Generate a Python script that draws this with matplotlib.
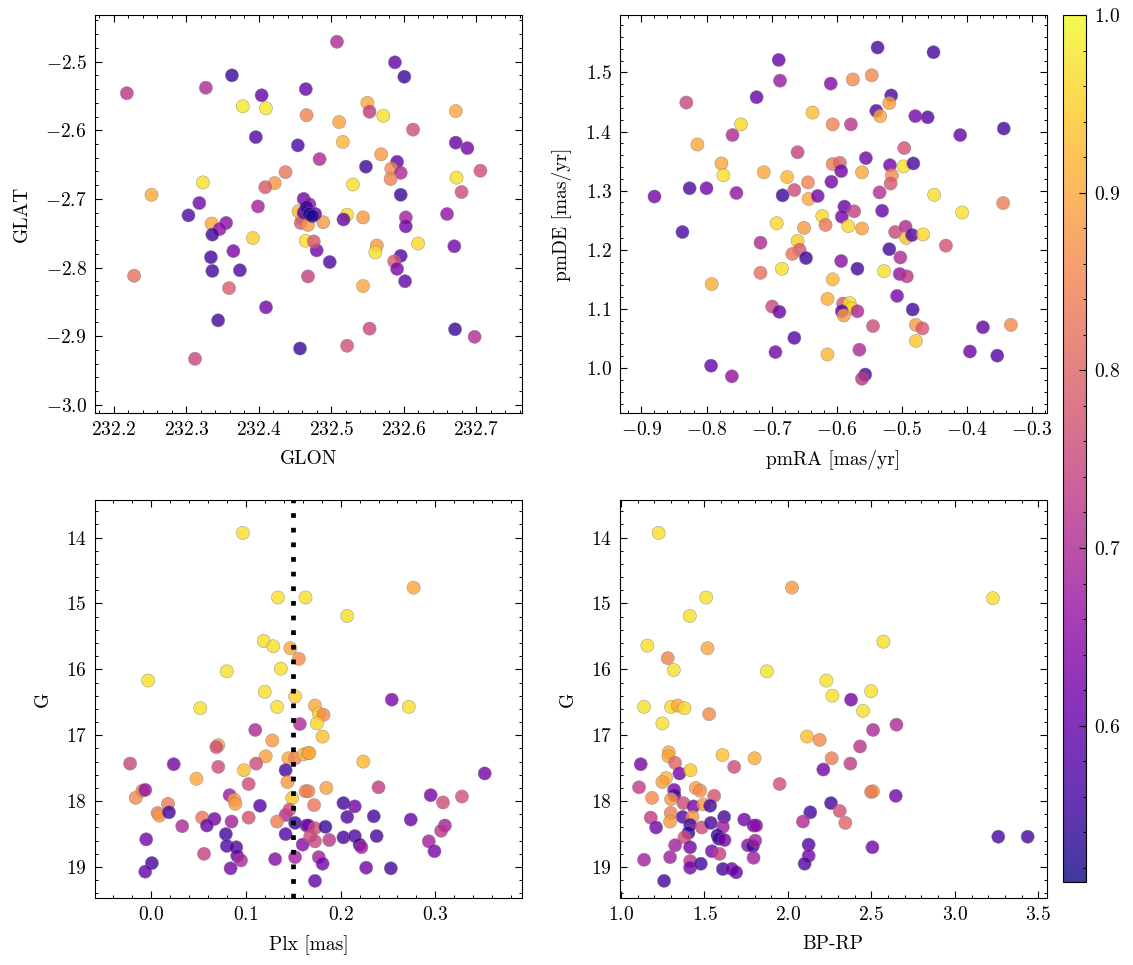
import numpy as np
import matplotlib
matplotlib.use("Agg")
import matplotlib.pyplot as plt
from matplotlib.ticker import MultipleLocator

# ---- data (per panel: x, y, membership probability) ----
glon = [232.218, 232.327, 232.363, 232.404, 232.465, 232.378, 232.410, 232.466, 232.396, 232.454,
        232.437, 232.422, 232.409, 232.323, 232.252, 232.318, 232.399, 232.303, 232.335, 232.355,
        232.346, 232.336, 232.392, 232.334, 232.336, 232.365, 232.374, 232.228, 232.359, 232.410,
        232.344, 232.457, 232.312, 232.468, 232.465,
        232.508, 232.588, 232.601, 232.550, 232.553, 232.572, 232.511, 232.516, 232.613, 232.672,
        232.672, 232.688, 232.706, 232.673, 232.680, 232.484, 232.548, 232.569, 232.591, 232.583,
        232.596, 232.582, 232.530, 232.596, 232.522, 232.544, 232.517, 232.489, 232.603, 232.603,
        232.660, 232.620, 232.563, 232.561, 232.596, 232.587, 232.591, 232.602, 232.670, 232.498,
        232.480, 232.476, 232.544, 232.553, 232.522, 232.671, 232.698,
        232.460, 232.458, 232.468, 232.455, 232.462, 232.470, 232.462, 232.466, 232.478, 232.470,
        232.474]
glat = [-2.546, -2.538, -2.520, -2.549, -2.540, -2.565, -2.568, -2.578, -2.610, -2.622,
        -2.661, -2.677, -2.683, -2.676, -2.694, -2.706, -2.711, -2.724, -2.736, -2.735,
        -2.744, -2.752, -2.757, -2.785, -2.805, -2.776, -2.804, -2.812, -2.830, -2.858,
        -2.877, -2.918, -2.933, -2.813, -2.761,
        -2.471, -2.501, -2.522, -2.560, -2.573, -2.579, -2.588, -2.617, -2.599, -2.572,
        -2.618, -2.626, -2.659, -2.669, -2.690, -2.642, -2.653, -2.635, -2.646, -2.656,
        -2.662, -2.671, -2.679, -2.694, -2.723, -2.727, -2.730, -2.734, -2.727, -2.740,
        -2.722, -2.765, -2.768, -2.778, -2.783, -2.791, -2.802, -2.820, -2.769, -2.792,
        -2.775, -2.762, -2.827, -2.889, -2.914, -2.890, -2.901,
        -2.728, -2.735, -2.738, -2.718, -2.700, -2.708, -2.720, -2.712, -2.722, -2.722,
        -2.725]
p_pos = [0.72, 0.70, 0.55, 0.60, 0.60, 0.98, 0.98, 0.85, 0.58, 0.57,
         0.83, 0.88, 0.78, 0.97, 0.90, 0.62, 0.68, 0.57, 0.90, 0.65,
         0.66, 0.55, 0.95, 0.56, 0.56, 0.63, 0.57, 0.82, 0.79, 0.62,
         0.56, 0.55, 0.75, 0.74, 0.97,
         0.70, 0.60, 0.55, 0.90, 0.73, 0.97, 0.89, 0.92, 0.77, 0.90,
         0.60, 0.62, 0.76, 0.97, 0.76, 0.70, 0.55, 0.88, 0.60, 0.86,
         0.70, 0.85, 0.97, 0.55, 0.96, 0.88, 0.60, 0.88, 0.68, 0.62,
         0.66, 0.96, 0.88, 0.97, 0.58, 0.78, 0.63, 0.60, 0.62, 0.57,
         0.62, 0.78, 0.90, 0.75, 0.77, 0.55, 0.71,
         0.86, 0.78, 0.88, 0.92, 0.62, 0.66, 0.58, 0.55, 0.60, 0.52,
         0.53]

pmra = [-0.689, -0.687, -0.609, -0.723, -0.831, -0.637, -0.747, -0.606, -0.760, -0.814,
        -0.660, -0.777, -0.774, -0.712, -0.676, -0.644, -0.606, -0.608, -0.880, -0.826,
        -0.800, -0.754, -0.683, -0.665, -0.643, -0.629, -0.692, -0.622, -0.617, -0.650,
        -0.837, -0.660, -0.657, -0.668, -0.647, -0.717, -0.684, -0.717, -0.606, -0.792,
        -0.614, -0.699, -0.688, -0.665, -0.694, -0.614, -0.793, -0.761,
        -0.537, -0.451, -0.575, -0.546, -0.516, -0.519, -0.539, -0.533, -0.479, -0.460,
        -0.578, -0.410, -0.343, -0.496, -0.555, -0.595, -0.593, -0.561, -0.518, -0.497,
        -0.482, -0.515, -0.517, -0.534, -0.450, -0.344, -0.407, -0.588, -0.573, -0.592,
        -0.530, -0.582, -0.561, -0.510, -0.494, -0.493, -0.484, -0.467, -0.432, -0.519,
        -0.502, -0.593, -0.568, -0.527, -0.503, -0.492, -0.507, -0.483, -0.590, -0.580,
        -0.577, -0.592, -0.589, -0.568, -0.544, -0.478, -0.468, -0.478, -0.332, -0.375,
        -0.395, -0.353, -0.565, -0.556, -0.561]
pmde = [1.521, 1.486, 1.481, 1.458, 1.449, 1.432, 1.412, 1.412, 1.394, 1.378,
        1.365, 1.346, 1.326, 1.331, 1.323, 1.314, 1.345, 1.315, 1.290, 1.304,
        1.304, 1.296, 1.292, 1.301, 1.286, 1.291, 1.245, 1.257, 1.242, 1.237,
        1.230, 1.215, 1.200, 1.193, 1.186, 1.212, 1.168, 1.161, 1.150, 1.142,
        1.117, 1.104, 1.095, 1.051, 1.027, 1.023, 1.004, 0.986,
        1.542, 1.534, 1.488, 1.495, 1.461, 1.448, 1.435, 1.426, 1.426, 1.424,
        1.412, 1.394, 1.405, 1.372, 1.355, 1.347, 1.333, 1.331, 1.343, 1.341,
        1.346, 1.326, 1.312, 1.297, 1.293, 1.279, 1.263, 1.273, 1.265, 1.256,
        1.266, 1.240, 1.236, 1.230, 1.239, 1.220, 1.225, 1.226, 1.207, 1.201,
        1.187, 1.181, 1.168, 1.164, 1.159, 1.155, 1.122, 1.099, 1.109, 1.110,
        1.101, 1.096, 1.089, 1.096, 1.071, 1.073, 1.067, 1.046, 1.073, 1.069,
        1.028, 1.021, 1.031, 0.989, 0.982]
p_pm = [0.60, 0.67, 0.64, 0.60, 0.75, 0.93, 0.96, 0.85, 0.70, 0.90,
        0.74, 0.90, 0.97, 0.90, 0.92, 0.85, 0.84, 0.62, 0.62, 0.57,
        0.62, 0.66, 0.55, 0.76, 0.90, 0.62, 0.96, 0.96, 0.83, 0.88,
        0.57, 0.95, 0.78, 0.83, 0.55, 0.70, 0.97, 0.82, 0.92, 0.91,
        0.91, 0.75, 0.60, 0.58, 0.62, 0.92, 0.60, 0.66,
        0.56, 0.56, 0.86, 0.86, 0.57, 0.89, 0.58, 0.90, 0.62, 0.58,
        0.72, 0.60, 0.56, 0.77, 0.62, 0.80, 0.62, 0.90, 0.62, 0.97,
        0.57, 0.86, 0.78, 0.71, 0.97, 0.84, 0.97, 0.60, 0.74, 0.62,
        0.60, 0.96, 0.89, 0.75, 0.70, 0.93, 0.58, 0.96, 0.77, 0.56,
        0.70, 0.65, 0.56, 0.97, 0.66, 0.72, 0.63, 0.56, 0.78, 0.97,
        0.96, 0.58, 0.88, 0.70, 0.76, 0.88, 0.78, 0.94, 0.86, 0.60,
        0.61, 0.58, 0.70, 0.56, 0.72]

plx = [0.097, 0.134, 0.163, 0.119, 0.129, 0.147, 0.156, 0.137, 0.080, -0.003,
       0.120, 0.152, 0.052, 0.133, 0.157, 0.110, 0.128, 0.071, 0.069, 0.121,
       0.145, 0.152, 0.161, 0.166, -0.022, 0.024, 0.071, 0.111, 0.098, 0.142,
       0.048, 0.103, 0.144, -0.016, -0.009, -0.006, 0.149, 0.163, 0.083, 0.088,
       0.089, 0.115, 0.018, 0.007, 0.009, 0.019, 0.142, 0.146, 0.054, 0.067,
       0.059, 0.033, 0.085, 0.103, 0.133, 0.152, 0.164, 0.079, 0.142, -0.005,
       0.080, 0.090, 0.160, 0.056, 0.091, 0.095, 0.131, 0.152, 0.084, 0.001,
       -0.006,
       0.277, 0.207, 0.254, 0.272, 0.173, 0.177, 0.182, 0.175, 0.181, 0.167,
       0.224, 0.352, 0.240, 0.185, 0.166, 0.172, 0.295, 0.308, 0.328, 0.203,
       0.215, 0.207, 0.235, 0.274, 0.166, 0.173, 0.184, 0.168, 0.173, 0.188,
       0.203, 0.215, 0.220, 0.222, 0.238, 0.310, 0.306, 0.293, 0.299, 0.177,
       0.181, 0.227, 0.253, 0.173]
g_plx = [13.93, 14.91, 14.91, 15.57, 15.65, 15.68, 15.84, 15.99, 16.03, 16.17,
         16.34, 16.41, 16.59, 16.57, 16.83, 16.92, 17.08, 17.15, 17.18, 17.32,
         17.35, 17.35, 17.29, 17.27, 17.43, 17.44, 17.48, 17.43, 17.53, 17.53,
         17.66, 17.74, 17.71, 17.95, 17.84, 17.83, 17.95, 17.85, 17.91, 17.98,
         18.04, 18.07, 18.04, 18.18, 18.22, 18.17, 18.21, 18.13, 18.25, 18.27,
         18.37, 18.38, 18.31, 18.25, 18.31, 18.33, 18.37, 18.50, 18.50, 18.58,
         18.68, 18.70, 18.66, 18.80, 18.83, 18.90, 18.88, 18.85, 19.02, 18.94,
         19.07,
         14.76, 15.19, 16.46, 16.57, 16.55, 16.67, 16.69, 16.82, 17.02, 17.27,
         17.40, 17.58, 17.79, 17.80, 17.85, 18.06, 17.91, 18.02, 17.93, 18.03,
         18.08, 18.24, 18.23, 18.28, 18.37, 18.41, 18.39, 18.53, 18.61, 18.59,
         18.55, 18.53, 18.66, 18.70, 18.53, 18.37, 18.45, 18.61, 18.76, 18.85,
         18.95, 19.01, 19.02, 19.21]
p_plx = [0.97, 0.97, 0.97, 0.97, 0.97, 0.90, 0.86, 0.97, 0.97, 0.97,
         0.97, 0.95, 0.97, 0.97, 0.70, 0.70, 0.88, 0.90, 0.76, 0.89,
         0.90, 0.85, 0.92, 0.90, 0.75, 0.62, 0.76, 0.76, 0.93, 0.56,
         0.90, 0.76, 0.88, 0.86, 0.85, 0.66, 0.94, 0.85, 0.67, 0.90,
         0.88, 0.58, 0.84, 0.84, 0.88, 0.56, 0.70, 0.75, 0.83, 0.62,
         0.60, 0.70, 0.68, 0.77, 0.84, 0.55, 0.60, 0.56, 0.58, 0.62,
         0.57, 0.58, 0.64, 0.74, 0.60, 0.70, 0.64, 0.68, 0.62, 0.56,
         0.60,
         0.90, 0.97, 0.63, 0.97, 0.90, 0.95, 0.86, 0.96, 0.93, 0.90,
         0.92, 0.62, 0.73, 0.89, 0.84, 0.83, 0.62, 0.76, 0.77, 0.56,
         0.62, 0.58, 0.56, 0.60, 0.62, 0.76, 0.55, 0.76, 0.75, 0.72,
         0.56, 0.58, 0.55, 0.68, 0.56, 0.68, 0.72, 0.68, 0.63, 0.68,
         0.62, 0.62, 0.56, 0.60]

bprp = [1.226, 1.510, 1.412, 2.024, 1.158, 1.518, 1.280, 1.316, 1.874, 2.230,
        2.266, 1.138, 1.300, 1.340, 1.380, 1.528, 1.248, 2.114, 2.190, 1.286,
        1.284, 1.608, 1.800, 2.262, 1.324, 1.118, 1.678, 1.350, 1.416, 2.212,
        1.270, 1.248, 1.950, 1.108, 1.318, 1.448, 1.474, 1.320, 1.558, 1.186,
        1.300, 1.374, 1.434, 1.494, 1.534, 2.258, 2.134, 2.090, 1.178, 1.298,
        1.294, 1.370, 1.428, 1.210, 1.414, 1.484, 1.538, 1.618, 1.610, 1.738,
        1.794, 1.810, 1.404, 1.380, 1.578, 1.586, 1.620, 1.324, 1.414, 1.544,
        1.590, 1.760, 1.790, 1.804, 2.124, 2.124, 2.100, 1.794, 1.138, 1.294,
        1.414, 1.414, 1.478, 1.610, 1.664, 1.690, 1.258,
        3.228, 2.572, 2.378, 2.498, 2.450, 2.510, 2.650, 2.432, 2.374, 2.510,
        2.498, 2.646, 2.310, 2.344, 2.506, 3.260, 3.436]
g_cmd = [13.93, 14.91, 15.19, 14.76, 15.64, 15.68, 15.83, 16.01, 16.03, 16.17,
         16.40, 16.57, 16.57, 16.55, 16.59, 16.68, 16.82, 17.02, 17.07, 17.26,
         17.32, 17.30, 17.35, 17.35, 17.42, 17.44, 17.48, 17.58, 17.53, 17.52,
         17.65, 17.71, 17.74, 17.79, 17.83, 17.80, 17.84, 17.91, 17.92, 17.95,
         17.97, 18.03, 18.08, 18.05, 18.07, 18.03, 18.17, 18.31, 18.25, 18.18,
         18.31, 18.24, 18.24, 18.40, 18.36, 18.40, 18.33, 18.24, 18.39, 18.28,
         18.37, 18.37, 18.48, 18.55, 18.52, 18.57, 18.59, 18.67, 18.70, 18.76,
         18.80, 18.67, 18.68, 18.60, 18.66, 18.83, 18.95, 18.86, 18.89, 18.85,
         18.91, 19.01, 18.95, 19.03, 19.03, 19.08, 19.21,
         14.92, 15.58, 16.46, 16.33, 16.63, 16.92, 16.84, 17.17, 17.43, 17.85,
         17.86, 17.92, 18.15, 18.33, 18.70, 18.54, 18.54]
p_cmd = [0.97, 0.97, 0.97, 0.88, 0.97, 0.90, 0.85, 0.97, 0.97, 0.97,
         0.97, 0.97, 0.96, 0.90, 0.96, 0.86, 0.97, 0.93, 0.86, 0.90,
         0.90, 0.93, 0.91, 0.84, 0.80, 0.62, 0.76, 0.62, 0.94, 0.62,
         0.92, 0.89, 0.77, 0.73, 0.62, 0.89, 0.86, 0.58, 0.77, 0.86,
         0.88, 0.76, 0.62, 0.88, 0.56, 0.56, 0.56, 0.70, 0.73, 0.84,
         0.88, 0.58, 0.88, 0.62, 0.56, 0.76, 0.56, 0.56, 0.68, 0.62,
         0.62, 0.65, 0.55, 0.76, 0.55, 0.55, 0.62, 0.68, 0.62, 0.62,
         0.74, 0.65, 0.55, 0.68, 0.58, 0.62, 0.58, 0.68, 0.68, 0.68,
         0.72, 0.62, 0.56, 0.56, 0.62, 0.60, 0.56,
         0.97, 0.97, 0.62, 0.97, 0.97, 0.70, 0.70, 0.72, 0.73, 0.90,
         0.83, 0.62, 0.77, 0.80, 0.62, 0.56, 0.56]

plx_cut = 0.15
p_min, p_max = 0.512, 1.0

# ---- style (science-like) ----
plt.rcParams.update({
    "font.family": "serif",
    "font.serif": ["cmr10"],
    "mathtext.fontset": "cm",
    "axes.formatter.use_mathtext": True,
    "axes.unicode_minus": True,
    "font.size": 14,
    "axes.linewidth": 0.8,
    "xtick.direction": "in",
    "ytick.direction": "in",
    "xtick.top": True,
    "ytick.right": True,
    "xtick.minor.visible": True,
    "ytick.minor.visible": True,
    "xtick.major.size": 5,
    "ytick.major.size": 5,
    "xtick.minor.size": 2.5,
    "ytick.minor.size": 2.5,
    "xtick.major.width": 0.8,
    "ytick.major.width": 0.8,
    "xtick.minor.width": 0.7,
    "ytick.minor.width": 0.7,
    "xtick.major.pad": 6,
    "ytick.major.pad": 6,
})

fig = plt.figure(figsize=(11.33, 9.65), dpi=100)
W, H = 1133, 965


def ax_at(x0, y0, x1, y1):
    return fig.add_axes([x0 / W, 1 - y1 / H, (x1 - x0) / W, (y1 - y0) / H])


ax1 = ax_at(95, 15, 521.7, 413)
ax2 = ax_at(620, 15, 1046.7, 413)
ax3 = ax_at(95, 500, 521.7, 898)
ax4 = ax_at(620, 500, 1046.7, 898)
cax = ax_at(1063, 15, 1086, 882)

kw = dict(cmap="plasma", vmin=p_min, vmax=p_max, s=90, alpha=0.8,
          edgecolors="gray", linewidths=0.35)


def scat(ax, x, y, p):
    return ax.scatter(x, y, c=p, **kw)


sc = scat(ax1, glon, glat, p_pos)
ax1.set_xlim(232.174, 232.763)
ax1.set_ylim(-3.012, -2.432)
ax1.xaxis.set_major_locator(MultipleLocator(0.1))
ax1.yaxis.set_major_locator(MultipleLocator(0.1))
ax1.set_xlabel("GLON")
ax1.set_ylabel("GLAT")

scat(ax2, pmra, pmde, p_pm)
ax2.set_xlim(-0.933, -0.277)
ax2.set_ylim(0.924, 1.597)
ax2.xaxis.set_major_locator(MultipleLocator(0.1))
ax2.yaxis.set_major_locator(MultipleLocator(0.1))
ax2.set_xlabel("pmRA [mas/yr]")
ax2.set_ylabel("pmDE [mas/yr]")

scat(ax3, plx, g_plx, p_plx)
ax3.axvline(plx_cut, color="black", lw=3.4, ls=(0, (1, 2.1)))
ax3.set_xlim(-0.059, 0.391)
ax3.set_ylim(19.47, 13.43)
ax3.xaxis.set_major_locator(MultipleLocator(0.1))
ax3.yaxis.set_major_locator(MultipleLocator(1))
ax3.set_xlabel("Plx [mas]")
ax3.set_ylabel("G")

scat(ax4, bprp, g_cmd, p_cmd)
ax4.set_xlim(0.994, 3.55)
ax4.set_ylim(19.47, 13.43)
ax4.xaxis.set_major_locator(MultipleLocator(0.5))
ax4.yaxis.set_major_locator(MultipleLocator(1))
ax4.set_xlabel("BP-RP")
ax4.set_ylabel("G")

for ax in (ax1, ax2, ax3, ax4):
    ax.xaxis.labelpad = 8
    ax.yaxis.labelpad = 10

cb = fig.colorbar(sc, cax=cax)
cb.set_ticks([0.6, 0.7, 0.8, 0.9, 1.0])
cb.ax.yaxis.set_minor_locator(MultipleLocator(0.02))
cb.ax.tick_params(which="both", direction="in")
cb.outline.set_linewidth(0.8)

fig.savefig("out.png", dpi=100)
